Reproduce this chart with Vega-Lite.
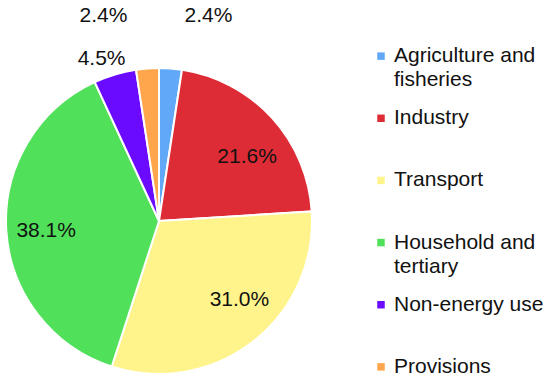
{
  "$schema": "https://vega.github.io/schema/vega-lite/v6.json",
  "padding": 0,
  "config": {"view": {"stroke": null}, "font": "Liberation Sans", "concat": {"spacing": 56}},
  "datasets": {
    "energy": [
      {"idx": 1, "category": "Agriculture and\nfisheries", "share": 0.024},
      {"idx": 2, "category": "Industry", "share": 0.216},
      {"idx": 3, "category": "Transport", "share": 0.310},
      {"idx": 4, "category": "Household and\ntertiary", "share": 0.381},
      {"idx": 5, "category": "Non-energy use", "share": 0.045},
      {"idx": 6, "category": "Provisions", "share": 0.024}
    ]
  },
  "hconcat": [
    {
      "width": 318,
      "height": 442,
      "data": {"name": "energy"},
      "encoding": {
        "theta": {"field": "share", "type": "quantitative", "stack": true},
        "order": {"field": "idx", "type": "quantitative"},
        "detail": {"field": "category", "type": "nominal"}
      },
      "layer": [
        {
          "mark": {"type": "arc", "outerRadius": 153, "stroke": "white", "strokeWidth": 2},
          "encoding": {
            "color": {
              "field": "category", "type": "nominal",
              "scale": {
                "domain": ["Agriculture and\nfisheries", "Industry", "Transport", "Household and\ntertiary", "Non-energy use", "Provisions"],
                "range": ["#62a8f8", "#dd2c36", "#fff48c", "#50e05a", "#6a0aff", "#ffa64c"]
              },
              "legend": null
            }
          }
        },
        {
          "mark": {"type": "text", "fontSize": 21, "color": "#111111", "dx": 7, "dy": 10, "radius": {"expr": "datum.idx == 2 ? 110 : 0"}},
          "encoding": {
            "text": {"condition": {"test": "datum.idx == 2", "field": "share", "type": "quantitative", "format": ".1%"}, "value": ""}
          }
        },
        {
          "mark": {"type": "text", "fontSize": 21, "color": "#111111", "dx": 13, "dy": -8, "radius": {"expr": "datum.idx == 3 ? 110 : 0"}},
          "encoding": {
            "text": {"condition": {"test": "datum.idx == 3", "field": "share", "type": "quantitative", "format": ".1%"}, "value": ""}
          }
        },
        {
          "mark": {"type": "text", "fontSize": 21, "color": "#111111", "dx": -3, "dy": 3, "radius": {"expr": "datum.idx == 4 ? 110 : 0"}},
          "encoding": {
            "text": {"condition": {"test": "datum.idx == 4", "field": "share", "type": "quantitative", "format": ".1%"}, "value": ""}
          }
        },
        {
          "mark": {"type": "text", "fontSize": 21, "color": "#111111", "dx": -7, "dy": 6, "radius": {"expr": "datum.idx == 5 ? 175 : 0"}},
          "encoding": {
            "text": {"condition": {"test": "datum.idx == 5", "field": "share", "type": "quantitative", "format": ".1%"}, "value": ""}
          }
        },
        {
          "mark": {"type": "text", "fontSize": 21, "color": "#111111", "align": "left", "dx": 10, "radius": {"expr": "datum.idx == 1 ? 206 : 0"}},
          "encoding": {
            "text": {"condition": {"test": "datum.idx == 1", "field": "share", "type": "quantitative", "format": ".1%"}, "value": ""}
          }
        },
        {
          "mark": {"type": "text", "fontSize": 21, "color": "#111111", "align": "right", "dx": -16, "radius": {"expr": "datum.idx == 6 ? 206 : 0"}},
          "encoding": {
            "text": {"condition": {"test": "datum.idx == 6", "field": "share", "type": "quantitative", "format": ".1%"}, "value": ""}
          }
        }
      ]
    },
    {
      "width": 14,
      "height": 435,
      "data": {"name": "energy"},
      "encoding": {
        "y": {"field": "category", "type": "nominal", "sort": null, "scale": {"type": "point", "padding": 1}, "axis": null}
      },
      "layer": [
        {
          "mark": {"type": "square", "size": 56, "opacity": 1, "yOffset": -6},
          "encoding": {
            "color": {
              "field": "category", "type": "nominal",
              "scale": {
                "domain": ["Agriculture and\nfisheries", "Industry", "Transport", "Household and\ntertiary", "Non-energy use", "Provisions"],
                "range": ["#62a8f8", "#dd2c36", "#fff48c", "#50e05a", "#6a0aff", "#ffa64c"]
              },
              "legend": null
            }
          }
        },
        {
          "mark": {"type": "text", "align": "left", "baseline": "alphabetic", "dx": 13, "fontSize": 21, "lineBreak": "\n", "lineHeight": 24, "color": "#111111"},
          "encoding": {"text": {"field": "category", "type": "nominal"}}
        }
      ]
    }
  ]
}
